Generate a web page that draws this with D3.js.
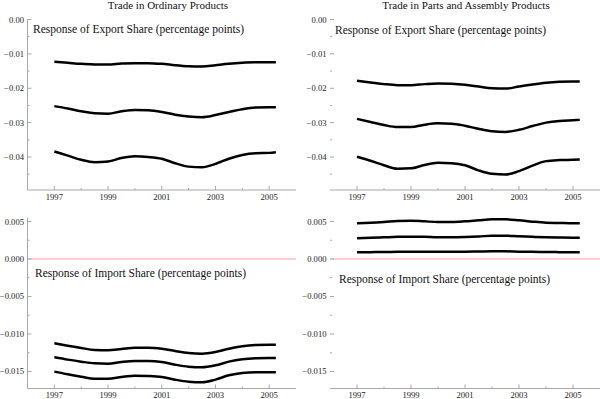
<!DOCTYPE html>
<html>
<head>
<meta charset="utf-8">
<script src="https://cdn.jsdelivr.net/npm/d3@7"></script>
<style>
  html, body { margin: 0; padding: 0; background: #fff; }
  svg { display: block; }
</style>
</head>
<body>
<svg id="chart" width="600" height="399" font-family="'Liberation Serif', 'Times New Roman', Times, serif"></svg>
<script>
// ---------------- DATA ----------------
const years = [1997, 1997.5, 1998, 1998.5, 1999, 1999.5, 2000, 2000.5, 2001, 2001.5,
               2002, 2002.5, 2003, 2003.5, 2004, 2004.5, 2005, 2005.25];

const panelTitles = ["Trade in Ordinary Products", "Trade in Parts and Assembly Products"];
const exportLabel = "Response of Export Share (percentage points)";
const importLabel = "Response of Import Share (percentage points)";

const xMajorTicks = [1997, 1999, 2001, 2003, 2005];
const xMinorTicks = [1998, 2000, 2002, 2004];
const exportMajorTicks = [0, -0.01, -0.02, -0.03, -0.04];
const exportMinorTicks = [-0.005, -0.015, -0.025, -0.035, -0.045];
const importMajorTicks = [0.005, 0, -0.005, -0.010, -0.015];
const importMinorTicks = [0.0025, -0.0025, -0.0075, -0.0125];

// Ordinary products – export share
const ordExpUpper = [-0.0123,-0.0126,-0.0129,-0.0131,-0.0131,-0.0128,-0.0127,-0.0127,-0.0129,-0.0133,
                     -0.0136,-0.0137,-0.0133,-0.0129,-0.0126,-0.0124,-0.0124,-0.0124];
const ordExpMid   = [-0.0252,-0.0259,-0.0267,-0.0273,-0.0274,-0.0267,-0.0263,-0.0264,-0.0269,-0.0277,
                     -0.0282,-0.0284,-0.0278,-0.0269,-0.0261,-0.0256,-0.0255,-0.0255];
const ordExpLower = [-0.0384,-0.0396,-0.0408,-0.0415,-0.0413,-0.0403,-0.0398,-0.0400,-0.0405,-0.0418,
                     -0.0428,-0.0430,-0.0420,-0.0405,-0.0394,-0.0389,-0.0388,-0.0386];

// Parts and assembly products – export share
const paExpUpper = [-0.0178,-0.0183,-0.0188,-0.0191,-0.0191,-0.0188,-0.0186,-0.0187,-0.0190,-0.0195,
                    -0.0200,-0.0201,-0.0195,-0.0189,-0.0184,-0.0181,-0.0180,-0.0180];
const paExpMid   = [-0.0289,-0.0298,-0.0307,-0.0313,-0.0313,-0.0306,-0.0302,-0.0303,-0.0309,-0.0318,
                    -0.0325,-0.0327,-0.0321,-0.0310,-0.0300,-0.0295,-0.0293,-0.0292];
const paExpLower = [-0.0399,-0.0411,-0.0424,-0.0434,-0.0433,-0.0423,-0.0417,-0.0418,-0.0424,-0.0439,
                    -0.0449,-0.0451,-0.0441,-0.0425,-0.0412,-0.0409,-0.0408,-0.0407];

// Ordinary products – import share
const ordImpUpper = [-0.01124,-0.01156,-0.01187,-0.01213,-0.01218,-0.01200,-0.01182,-0.01182,-0.01196,-0.01227,
                     -0.01253,-0.01262,-0.01240,-0.01196,-0.01164,-0.01147,-0.01142,-0.01142];
const ordImpMid   = [-0.01311,-0.01342,-0.01369,-0.01391,-0.01396,-0.01373,-0.01360,-0.01360,-0.01373,-0.01409,
                     -0.01436,-0.01444,-0.01418,-0.01369,-0.01338,-0.01324,-0.01320,-0.01320];
const ordImpLower = [-0.01502,-0.01538,-0.01569,-0.01596,-0.01596,-0.01573,-0.01556,-0.01560,-0.01573,-0.01609,
                     -0.01636,-0.01644,-0.01609,-0.01551,-0.01520,-0.01511,-0.01511,-0.01511];

// Parts and assembly products – import share
const paImpUpper = [0.00476,0.00482,0.00493,0.00507,0.00511,0.00502,0.00493,0.00493,0.00502,0.00516,
                    0.00529,0.00529,0.00516,0.00498,0.00484,0.00480,0.00476,0.00476];
const paImpMid   = [0.00276,0.00283,0.00289,0.00295,0.00298,0.00296,0.00289,0.00290,0.00293,0.00300,
                    0.00311,0.00311,0.00302,0.00295,0.00289,0.00286,0.00284,0.00284];
const paImpLower = [0.00089,0.00091,0.00093,0.00096,0.00098,0.00098,0.00098,0.00098,0.00098,0.00100,
                    0.00102,0.00102,0.00098,0.00096,0.00093,0.00091,0.00089,0.00089];

// ---------------- LAYOUT ----------------
const svg = d3.select("#chart");
const axisColor = "#a8a8a8";
const labelColor = "#222";
const tickFont = 8.6;

const cols = [
  { x0: 27.5, x1: 296, showYLine: true },
  { x0: 330, x1: 600, showYLine: false }
];
const rows = [
  { yTop: 19.5, yBottom: 190, domain: [-0.0496, 0], major: exportMajorTicks, minor: exportMinorTicks,
    fmt: d3.format(".2f"), zeroLine: false },
  { yTop: 217.75, yBottom: 388.5, domain: [-0.01727, 0.0055], major: importMajorTicks, minor: importMinorTicks,
    fmt: d3.format(".3f"), zeroLine: true }
];

const panels = [
  { col: 0, row: 0, series: [ordExpUpper, ordExpMid, ordExpLower], label: exportLabel, lx: 33, ly: 33 },
  { col: 1, row: 0, series: [paExpUpper, paExpMid, paExpLower], label: exportLabel, lx: 335, ly: 34 },
  { col: 0, row: 1, series: [ordImpUpper, ordImpMid, ordImpLower], label: importLabel, lx: 35, ly: 277 },
  { col: 1, row: 1, series: [paImpUpper, paImpMid, paImpLower], label: importLabel, lx: 339, ly: 283 }
];

const fmtMinus = f => v => f(v).replace("-", "\u2212");

panels.forEach(p => {
  const c = cols[p.col], r = rows[p.row];
  const x = d3.scaleLinear().domain([1996, 2006]).range([c.x0, c.x1]);
  const y = d3.scaleLinear().domain(r.domain).range([r.yBottom, r.yTop]);
  const g = svg.append("g");

  if (r.zeroLine) {
    g.append("line")
      .attr("x1", c.x0).attr("x2", c.x1)
      .attr("y1", y(0)).attr("y2", y(0))
      .attr("stroke", "#f4a3a3").attr("stroke-width", 1);
  }

  if (c.showYLine) {
    g.append("line")
      .attr("x1", c.x0).attr("x2", c.x0)
      .attr("y1", r.yTop).attr("y2", r.yBottom)
      .attr("stroke", axisColor).attr("stroke-width", 1);
  }
  g.selectAll(null).data(r.major).enter().append("line")
    .attr("x1", c.x0).attr("x2", c.x0 + 4)
    .attr("y1", d => y(d)).attr("y2", d => y(d))
    .attr("stroke", axisColor).attr("stroke-width", 1);
  g.selectAll(null).data(r.minor).enter().append("line")
    .attr("x1", c.x0).attr("x2", c.x0 + 2)
    .attr("y1", d => y(d)).attr("y2", d => y(d))
    .attr("stroke", axisColor).attr("stroke-width", 1);
  g.selectAll(null).data(r.major).enter().append("text")
    .attr("x", c.x0 - 3.5).attr("y", d => y(d))
    .attr("dy", "0.35em")
    .attr("text-anchor", "end")
    .attr("font-size", tickFont)
    .attr("fill", labelColor)
    .text(d => fmtMinus(r.fmt)(d));

  g.append("line")
    .attr("x1", c.x0).attr("x2", c.x1)
    .attr("y1", r.yBottom).attr("y2", r.yBottom)
    .attr("stroke", axisColor).attr("stroke-width", 1);
  g.selectAll(null).data(xMajorTicks).enter().append("line")
    .attr("x1", d => x(d)).attr("x2", d => x(d))
    .attr("y1", r.yBottom).attr("y2", r.yBottom - 4)
    .attr("stroke", axisColor).attr("stroke-width", 1);
  g.selectAll(null).data(xMinorTicks).enter().append("line")
    .attr("x1", d => x(d)).attr("x2", d => x(d))
    .attr("y1", r.yBottom).attr("y2", r.yBottom - 2)
    .attr("stroke", axisColor).attr("stroke-width", 1);
  g.selectAll(null).data(xMajorTicks).enter().append("text")
    .attr("x", d => x(d)).attr("y", r.yBottom + 9.5)
    .attr("text-anchor", "middle")
    .attr("font-size", tickFont)
    .attr("fill", labelColor)
    .text(d => d);

  const line = d3.line()
    .x((d, i) => x(years[i]))
    .y(d => y(d))
    .curve(d3.curveMonotoneX);
  p.series.forEach(s => {
    g.append("path").datum(s)
      .attr("d", line)
      .attr("fill", "none")
      .attr("stroke", "#000")
      .attr("stroke-width", 2.5)
      .attr("stroke-linejoin", "round");
  });

  g.append("text")
    .attr("x", p.lx).attr("y", p.ly)
    .attr("font-size", 11.5)
    .attr("fill", "#111")
    .text(p.label);
});

svg.append("text").attr("x", 168).attr("y", 8.5)
  .attr("text-anchor", "middle").attr("font-size", 11).attr("fill", "#111")
  .text(panelTitles[0]);
svg.append("text").attr("x", 466).attr("y", 8.5)
  .attr("text-anchor", "middle").attr("font-size", 11).attr("fill", "#111")
  .text(panelTitles[1]);
</script>
</body>
</html>
